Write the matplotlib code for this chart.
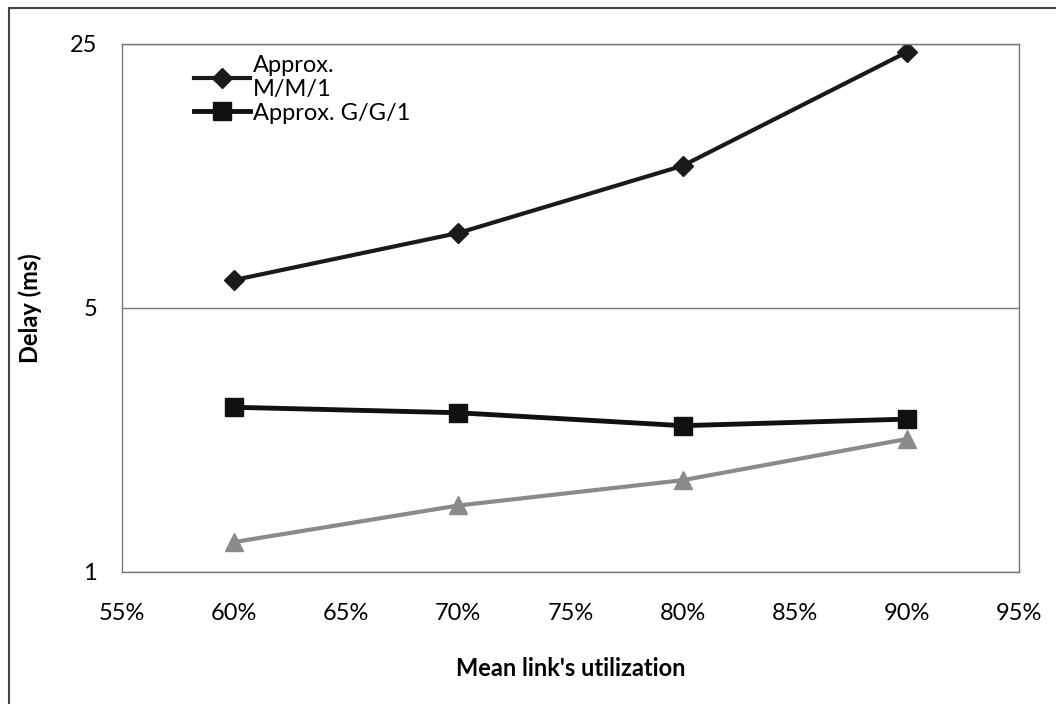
import matplotlib.pyplot as plt
from matplotlib.lines import Line2D
from matplotlib.ticker import FixedLocator, FuncFormatter, NullLocator

plt.rcParams['font.family'] = ['Lato', 'DejaVu Sans']

# data
utilization = [0.60, 0.70, 0.80, 0.90]
mm1_delay = [5.93, 7.9, 11.9, 23.8]
gg1_delay = [2.73, 2.64, 2.44, 2.54]
third_delay = [1.20, 1.50, 1.75, 2.25]
y_ticks = [1, 5, 25]
x_ticks = [0.55, 0.60, 0.65, 0.70, 0.75, 0.80, 0.85, 0.90, 0.95]

fig = plt.figure(figsize=(10.56, 7.04), dpi=100)
ax = fig.add_axes([122 / 1056, 1 - 572 / 704, (1019 - 122) / 1056, (572 - 44) / 704])

ax.plot(utilization, mm1_delay, color='#1a1a1a', lw=3, marker='D', ms=10,
        label='Approx.\nM/M/1')
ax.plot(utilization, gg1_delay, color='#111111', lw=3.5, marker='s', ms=13,
        label='Approx. G/G/1')
ax.plot(utilization, third_delay, color='#8a8a8a', lw=3, marker='^', ms=13,
        label='_nolegend_')

ax.set_yscale('log', base=5)
ax.set_ylim(1, 25)
ax.set_xlim(0.55, 0.95)
ax.yaxis.set_major_locator(FixedLocator(y_ticks))
ax.yaxis.set_minor_locator(NullLocator())
ax.yaxis.set_major_formatter(FuncFormatter(lambda v, p: f'{v:g}'))
ax.set_xticks(x_ticks)
ax.xaxis.set_major_formatter(FuncFormatter(lambda v, p: f'{v * 100:.0f}%'))
ax.tick_params(length=0, labelsize=17)
ax.tick_params(axis='x', pad=22)
ax.tick_params(axis='y', pad=18)

ax.grid(axis='y', color='#777777', lw=1)
ax.set_axisbelow(True)
for s in ax.spines.values():
    s.set_color('#777777')
    s.set_linewidth(1)

ax.set_xlabel("Mean link's utilization", fontsize=17, fontweight='bold', labelpad=24)
ax.set_ylabel('Delay (ms)', fontsize=17, fontweight='bold', labelpad=20)

ax.legend(loc='upper left', bbox_to_anchor=(0.064, 1.006), frameon=False,
          fontsize=17, handlelength=2.4, handletextpad=0.1, labelspacing=0.1,
          borderaxespad=0.2)

# scanned page border (left and top only)
fig.add_artist(Line2D([9 / 1056, 9 / 1056], [0, 1 - 8 / 704], color='#444444', lw=1.5))
fig.add_artist(Line2D([9 / 1056, 1], [1 - 8 / 704, 1 - 8 / 704], color='#444444', lw=1.5))

fig.savefig('out.png', dpi=100)
